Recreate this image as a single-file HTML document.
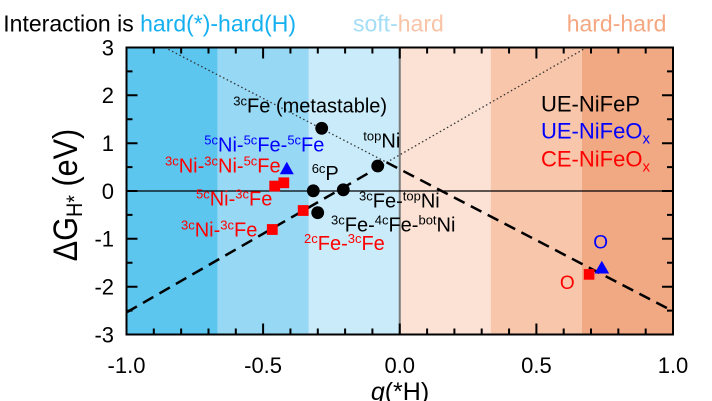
<!DOCTYPE html>
<html>
<head>
<meta charset="utf-8">
<style>
html,body{margin:0;padding:0;background:#fff;}
svg{display:block;}
text{font-family:"Liberation Sans",Arial,sans-serif;}
</style>
</head>
<body>
<svg width="712" height="401" viewBox="0 0 712 401" xmlns="http://www.w3.org/2000/svg">
<!-- bands -->
<rect x="126.5" y="47.5" width="91.2" height="287" fill="#5cc6ef"/>
<rect x="217.7" y="47.5" width="91.1" height="287" fill="#97d8f4"/>
<rect x="308.8" y="47.5" width="91" height="287" fill="#c9ebfa"/>
<rect x="399.75" y="47.5" width="91.1" height="287" fill="#fce2d5"/>
<rect x="490.8" y="47.5" width="91.1" height="287" fill="#f7c6ab"/>
<rect x="581.9" y="47.5" width="91.1" height="287" fill="#f1a984"/>
<!-- zero lines -->
<line x1="399.75" y1="47.5" x2="399.75" y2="334.5" stroke="#7a7a7a" stroke-width="2"/>
<line x1="126.5" y1="191" x2="673" y2="191" stroke="#000" stroke-width="1.3"/>
<!-- dotted / dashed guide lines -->
<line x1="164.8" y1="47.5" x2="386.5" y2="162.3" stroke="#333" stroke-width="1.3" stroke-dasharray="1.5 2.6"/>
<line x1="386.5" y1="162.5" x2="586.5" y2="47.5" stroke="#333" stroke-width="1.3" stroke-dasharray="1.5 2.6"/>
<line x1="126.5" y1="312.4" x2="386.5" y2="162.7" stroke="#000" stroke-width="2.5" stroke-dasharray="12 7"/>
<line x1="386.5" y1="162.3" x2="673" y2="311.2" stroke="#000" stroke-width="2.5" stroke-dasharray="12 7"/>
<!-- black circles -->
<g fill="#000">
<circle cx="321.7" cy="128.3" r="6.4"/>
<circle cx="377.7" cy="166" r="6.4"/>
<circle cx="313.3" cy="190.8" r="6.4"/>
<circle cx="343.3" cy="189.8" r="6.4"/>
<circle cx="317.7" cy="212.7" r="6.4"/>
</g>
<!-- red squares -->
<g fill="#ff0000">
<rect x="269.3" y="180.7" width="10.8" height="10.8"/>
<rect x="278.4" y="177.4" width="10.8" height="10.8"/>
<rect x="297.8" y="205.1" width="10.8" height="10.8"/>
<rect x="266.9" y="224.1" width="10.8" height="10.8"/>
<rect x="583.8" y="269.1" width="10.6" height="10.6"/>
</g>
<!-- blue triangles -->
<g fill="#0000ff">
<polygon points="279.8,174.2 293.8,174.2 286.8,161.8"/>
<polygon points="594.5,273.5 609.2,273.5 601.8,260.8"/>
</g>
<!-- O labels -->
<text x="600.7" y="248.4" font-size="19" fill="#0000ff" text-anchor="middle">O</text>
<text x="567.3" y="289" font-size="19" fill="#ff0000" text-anchor="middle">O</text>
<!-- point labels -->
<g font-size="20">
<text x="233.3" y="112.7" fill="#000"><tspan font-size="13" dy="-7">3c</tspan><tspan dy="7">Fe (metastable)</tspan></text>
<text x="363.3" y="147.3" fill="#000"><tspan font-size="13" dy="-7">top</tspan><tspan dy="7">Ni</tspan></text>
<text x="311.7" y="180" fill="#000"><tspan font-size="13" dy="-7">6c</tspan><tspan dy="7">P</tspan></text>
<text x="204.3" y="151.7" fill="#0000ff"><tspan font-size="13" dy="-7">5c</tspan><tspan dy="7">Ni-</tspan><tspan font-size="13" dy="-7">5c</tspan><tspan dy="7">Fe-</tspan><tspan font-size="13" dy="-7">5c</tspan><tspan dy="7">Fe</tspan></text>
<text x="165" y="172.7" fill="#ff0000"><tspan font-size="13" dy="-7">3c</tspan><tspan dy="7">Ni-</tspan><tspan font-size="13" dy="-7">3c</tspan><tspan dy="7">Ni-</tspan><tspan font-size="13" dy="-7">5c</tspan><tspan dy="7">Fe</tspan></text>
<text x="196" y="205.7" fill="#ff0000"><tspan font-size="13" dy="-7">5c</tspan><tspan dy="7">Ni-</tspan><tspan font-size="13" dy="-7">3c</tspan><tspan dy="7">Fe</tspan></text>
<text x="181" y="236.7" fill="#ff0000"><tspan font-size="13" dy="-7">3c</tspan><tspan dy="7">Ni-</tspan><tspan font-size="13" dy="-7">3c</tspan><tspan dy="7">Fe</tspan></text>
<text x="304" y="250" fill="#ff0000"><tspan font-size="13" dy="-7">2c</tspan><tspan dy="7">Fe-</tspan><tspan font-size="13" dy="-7">3c</tspan><tspan dy="7">Fe</tspan></text>
<text x="359" y="207.3" fill="#000"><tspan font-size="13" dy="-7">3c</tspan><tspan dy="7">Fe-</tspan><tspan font-size="13" dy="-7">top</tspan><tspan dy="7">Ni</tspan></text>
<text x="331" y="231.7" fill="#000"><tspan font-size="13" dy="-7">3c</tspan><tspan dy="7">Fe-</tspan><tspan font-size="13" dy="-7">4c</tspan><tspan dy="7">Fe-</tspan><tspan font-size="13" dy="-7">bot</tspan><tspan dy="7">Ni</tspan></text>
</g>
<!-- legend -->
<g font-size="22">
<text x="541" y="111.7" fill="#000">UE-NiFeP</text>
<text x="541" y="138.3" fill="#0000ff">UE-NiFeO<tspan font-size="15" dy="5">x</tspan></text>
<text x="541" y="166.7" fill="#ff0000">CE-NiFeO<tspan font-size="15" dy="5">x</tspan></text>
</g>
<!-- frame -->
<rect x="126.5" y="47.5" width="546.5" height="287" fill="none" stroke="#000" stroke-width="2"/>
<!-- ticks -->
<path d="M153.8 334.5v-6M181.15 334.5v-6M208.5 334.5v-6M235.8 334.5v-6M290.45 334.5v-6M317.8 334.5v-6M345.1 334.5v-6M372.4 334.5v-6M427.1 334.5v-6M454.4 334.5v-6M481.7 334.5v-6M509.05 334.5v-6M563.7 334.5v-6M591 334.5v-6M618.35 334.5v-6M645.7 334.5v-6M263.1 334.5v-11M399.75 334.5v-11M536.4 334.5v-11
M153.8 47.5v6M181.15 47.5v6M208.5 47.5v6M235.8 47.5v6M290.45 47.5v6M317.8 47.5v6M345.1 47.5v6M372.4 47.5v6M427.1 47.5v6M454.4 47.5v6M481.7 47.5v6M509.05 47.5v6M563.7 47.5v6M591 47.5v6M618.35 47.5v6M645.7 47.5v6M263.1 47.5v11M399.75 47.5v11M536.4 47.5v11
M126.5 71.4h6M126.5 119.2h6M126.5 167.1h6M126.5 214.9h6M126.5 262.8h6M126.5 310.6h6M126.5 95.3h11M126.5 143.2h11M126.5 191h11M126.5 238.8h11M126.5 286.7h11
M673 71.4h-6M673 119.2h-6M673 167.1h-6M673 214.9h-6M673 262.8h-6M673 310.6h-6M673 95.3h-11M673 143.2h-11M673 191h-11M673 238.8h-11M673 286.7h-11" stroke="#000" stroke-width="2" fill="none"/>
<!-- y tick labels -->
<g font-size="22" text-anchor="end" fill="#000">
<text x="114" y="55.3">3</text>
<text x="114" y="103.1">2</text>
<text x="114" y="151">1</text>
<text x="114" y="198.8">0</text>
<text x="114" y="246.6">-1</text>
<text x="114" y="294.5">-2</text>
<text x="114" y="342.3">-3</text>
</g>
<!-- x tick labels -->
<g font-size="22" text-anchor="middle" fill="#000">
<text x="126.5" y="373">-1.0</text>
<text x="263.1" y="373">-0.5</text>
<text x="399.75" y="373">0.0</text>
<text x="536.4" y="373">0.5</text>
<text x="673" y="373">1.0</text>
</g>
<!-- axis titles -->
<text x="400" y="400" font-size="25" text-anchor="middle" fill="#000"><tspan font-style="italic">q</tspan>(*H)</text>
<text transform="translate(77,195) rotate(-90) scale(0.9,1)" font-size="34" text-anchor="middle" fill="#000">ΔG<tspan font-size="22" dy="5">H*</tspan><tspan dy="-5"> (eV)</tspan></text>
<!-- top title -->
<text x="3.3" y="31.7" font-size="23" fill="#000">Interaction is <tspan fill="#14b0f0">hard(*)-hard(H)</tspan></text>
<text x="353" y="31.7" font-size="23"><tspan fill="#a3ddf6">soft-</tspan><tspan fill="#f9c3a6">hard</tspan></text>
<text x="566.7" y="31.7" font-size="23" fill="#f5a782">hard-hard</text>
</svg>
</body>
</html>
